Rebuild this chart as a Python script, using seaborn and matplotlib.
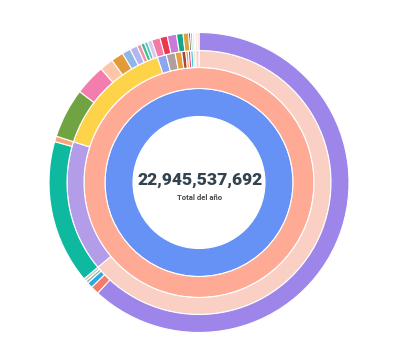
import matplotlib
matplotlib.use("Agg")
import matplotlib.pyplot as plt
import seaborn as sns

sns.set_theme(style="white")
plt.rcParams['font.family'] = ['Roboto', 'DejaVu Sans']

# anillo 1 y 2: un solo segmento cada uno
ring1_vals = [100]
ring1_cols = ['#6692F6']
ring2_vals = [100]
ring2_cols = ['#FEAA94']

# anillo 3 (categorias)
ring3_vals = [63.9, 16.1, 14.9, 1.1, 1.1, 0.8, 0.5, 0.3, 0.3, 0.3, 0.3, 0.4]
ring3_cols = ['#FAD0C5', '#B39DE9', '#FDD349', '#8EA6EF', '#AFA09F', '#E4A03C',
              '#A9473A', '#F0A030', '#E8388C', '#3CC8D8', '#F5E6C8', '#F9D0D0']

# anillo 4 (subcategorias)
ring4_vals = [61.8, 0.9, 0.6, 0.3, 0.3,
              15.5, 0.6,
              5.36, 3.33, 1.47, 1.33, 0.92, 0.8, 0.45, 0.4, 0.35, 0.49,
              0.9, 0.8, 1.0, 0.7, 0.6, 0.2, 0.2, 0.15, 0.15, 0.2, 0.2]
ring4_cols = ['#9D85EA', '#F47A6A', '#2EA8E0', '#9FB5A0', '#C8C8C8',
              '#0FB9A0', '#F6A677',
              '#70A442', '#F27DAE', '#FCC7A9', '#E29B39', '#8EB7E8', '#B4B5EE',
              '#F391B0', '#3DBE8A', '#5CC6C0', '#D8C8F0',
              '#F47BA5', '#E8394F', '#C77BD6', '#17A58A', '#E0A23E', '#222222',
              '#3CC8D8', '#1AA58A', '#E8E8E8', '#F8C8A8', '#F9D0D0']

total = "22,945,537,692"
subtitulo = "Total del año"

fig = plt.figure(figsize=(4, 3.56), dpi=100)
ax = fig.add_axes([0, 0, 1, 1])

cx, cy = 199, 173.5
rings = [(ring1_vals, ring1_cols, 94, 28),
         (ring2_vals, ring2_cols, 115, 21),
         (ring3_vals, ring3_cols, 132, 17),
         (ring4_vals, ring4_cols, 150, 18)]
for vals, cols, r, w in rings:
    ax.pie(vals, colors=cols, radius=r, center=(cx, cy), startangle=90,
           counterclock=False,
           wedgeprops=dict(width=w, edgecolor='white', linewidth=0.8))

ax.text(cx + 1, 176, total, ha='center', va='center', fontsize=12.6,
        fontweight='heavy', color='#33434F')
ax.text(cx + 1, 158.5, subtitulo, ha='center', va='center', fontsize=5.6,
        fontweight='bold', color='#4A4A4A')

ax.set_xlim(0, 400)
ax.set_ylim(0, 356)
ax.set_aspect('auto')
ax.axis('off')

fig.savefig('out.png', dpi=100, facecolor='white')
